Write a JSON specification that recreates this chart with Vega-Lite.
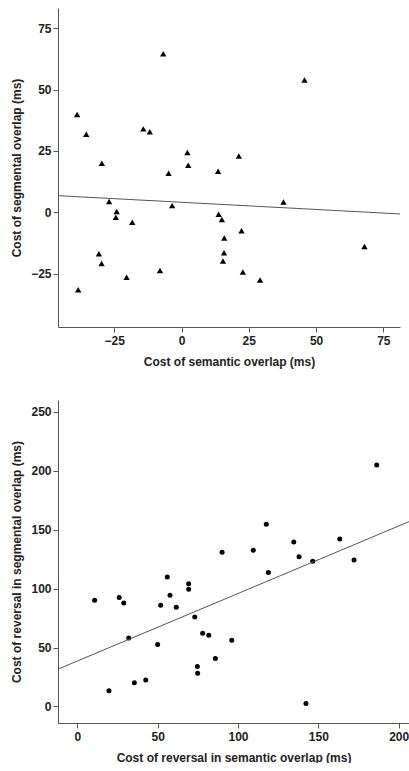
{
  "$schema": "https://vega.github.io/schema/vega-lite/v6.json",
  "padding": {"left": 10, "top": 8, "right": 0, "bottom": 0},
  "spacing": 33,
  "datasets": {
    "overlap": [
      {"semantic": -38.8, "segmental": 39.9},
      {"semantic": -35.4, "segmental": 31.8},
      {"semantic": -29.6, "segmental": 20.0},
      {"semantic": -6.8, "segmental": 64.6},
      {"semantic": -14.2, "segmental": 34.0},
      {"semantic": -11.8, "segmental": 32.8},
      {"semantic": 2.2, "segmental": 24.4},
      {"semantic": -4.8, "segmental": 15.9},
      {"semantic": 2.5, "segmental": 19.2},
      {"semantic": 13.6, "segmental": 16.7},
      {"semantic": 21.3, "segmental": 22.9},
      {"semantic": 45.7, "segmental": 53.9},
      {"semantic": -26.9, "segmental": 4.4},
      {"semantic": -24.1, "segmental": 0.3},
      {"semantic": -24.4, "segmental": -2.0},
      {"semantic": -18.3, "segmental": -4.1},
      {"semantic": -3.5, "segmental": 2.7},
      {"semantic": 13.8, "segmental": -0.8},
      {"semantic": 15.0, "segmental": -3.0},
      {"semantic": 22.3, "segmental": -7.5},
      {"semantic": 15.9, "segmental": -10.5},
      {"semantic": 15.8, "segmental": -16.5},
      {"semantic": 15.4, "segmental": -19.9},
      {"semantic": 22.8, "segmental": -24.4},
      {"semantic": 29.2, "segmental": -27.6},
      {"semantic": 37.9, "segmental": 4.2},
      {"semantic": 68.0, "segmental": -14.0},
      {"semantic": -30.7, "segmental": -16.9},
      {"semantic": -29.7, "segmental": -20.9},
      {"semantic": -20.4, "segmental": -26.5},
      {"semantic": -8.0, "segmental": -23.8},
      {"semantic": -38.4, "segmental": -31.6}
    ],
    "overlapFit": [
      {"semantic": -45.9, "segmental": 6.77},
      {"semantic": 81.2, "segmental": -0.7}
    ],
    "reversal": [
      {"semantic": 186.3, "segmental": 204.8},
      {"semantic": 117.6, "segmental": 154.6},
      {"semantic": 134.7, "segmental": 139.6},
      {"semantic": 163.3, "segmental": 142.1},
      {"semantic": 138.0, "segmental": 127.1},
      {"semantic": 146.5, "segmental": 123.2},
      {"semantic": 172.2, "segmental": 124.3},
      {"semantic": 109.5, "segmental": 132.5},
      {"semantic": 118.9, "segmental": 113.6},
      {"semantic": 90.1, "segmental": 130.8},
      {"semantic": 56.0, "segmental": 109.9},
      {"semantic": 69.3, "segmental": 104.2},
      {"semantic": 69.3, "segmental": 99.5},
      {"semantic": 57.7, "segmental": 94.4},
      {"semantic": 10.8, "segmental": 90.2},
      {"semantic": 26.1, "segmental": 92.4},
      {"semantic": 28.9, "segmental": 87.9},
      {"semantic": 51.9, "segmental": 85.9},
      {"semantic": 61.6, "segmental": 84.2},
      {"semantic": 73.1, "segmental": 76.0},
      {"semantic": 32.0, "segmental": 58.2},
      {"semantic": 50.0, "segmental": 52.5},
      {"semantic": 78.0, "segmental": 62.2},
      {"semantic": 81.8, "segmental": 60.5},
      {"semantic": 96.1, "segmental": 56.3},
      {"semantic": 85.9, "segmental": 40.7},
      {"semantic": 74.7, "segmental": 33.9},
      {"semantic": 74.9, "segmental": 28.3},
      {"semantic": 42.6, "segmental": 22.4},
      {"semantic": 35.5, "segmental": 20.1},
      {"semantic": 19.7, "segmental": 13.3},
      {"semantic": 142.3, "segmental": 2.5}
    ],
    "reversalFit": [
      {"semantic": -12.0, "segmental": 31.7},
      {"semantic": 206.4, "segmental": 156.8}
    ]
  },
  "config": {
    "font": "Liberation Sans",
    "view": {"stroke": null},
    "axis": {
      "grid": false,
      "domainColor": "#555555",
      "tickColor": "#555555",
      "tickSize": 5,
      "labelFont": "Liberation Sans",
      "labelFontSize": 12,
      "labelFontWeight": "bold",
      "labelColor": "#222222",
      "titleFont": "Liberation Sans",
      "titleFontSize": 12,
      "titleFontWeight": "bold",
      "titleColor": "#222222"
    },
    "axisX": {"labelPadding": 3, "titlePadding": 10},
    "axisY": {"labelPadding": 2, "titlePadding": 7}
  },
  "vconcat": [
    {
      "width": 342,
      "height": 319,
      "layer": [
        {
          "data": {"name": "overlap"},
          "mark": {"type": "point", "shape": "triangle-up", "filled": true, "color": "#000000", "opacity": 1, "size": 40},
          "encoding": {
            "x": {"field": "semantic", "type": "quantitative", "scale": {"domain": [-45.9, 81.2], "nice": false, "zero": false}, "axis": {"values": [-25, 0, 25, 50, 75], "title": "Cost of semantic overlap (ms)"}},
            "y": {"field": "segmental", "type": "quantitative", "scale": {"domain": [-46.8, 83.3], "nice": false, "zero": false}, "axis": {"values": [-25, 0, 25, 50, 75], "title": "Cost of segmental overlap (ms)"}}
          }
        },
        {
          "data": {"name": "overlapFit"},
          "mark": {"type": "line", "color": "#555555", "strokeWidth": 1},
          "encoding": {
            "x": {"field": "semantic", "type": "quantitative"},
            "y": {"field": "segmental", "type": "quantitative"}
          }
        }
      ]
    },
    {
      "width": 351,
      "height": 323,
      "layer": [
        {
          "data": {"name": "reversal"},
          "mark": {"type": "point", "shape": "circle", "filled": true, "color": "#000000", "opacity": 1, "size": 25},
          "encoding": {
            "x": {"field": "semantic", "type": "quantitative", "scale": {"domain": [-12.0, 206.4], "nice": false, "zero": false}, "axis": {"values": [0, 50, 100, 150, 200], "title": "Cost of reversal in semantic overlap (ms)"}},
            "y": {"field": "segmental", "type": "quantitative", "scale": {"domain": [-14, 260], "nice": false, "zero": false}, "axis": {"values": [0, 50, 100, 150, 200, 250], "title": "Cost of reversal in segmental overlap (ms)"}}
          }
        },
        {
          "data": {"name": "reversalFit"},
          "mark": {"type": "line", "color": "#555555", "strokeWidth": 1},
          "encoding": {
            "x": {"field": "semantic", "type": "quantitative"},
            "y": {"field": "segmental", "type": "quantitative"}
          }
        }
      ]
    }
  ]
}
